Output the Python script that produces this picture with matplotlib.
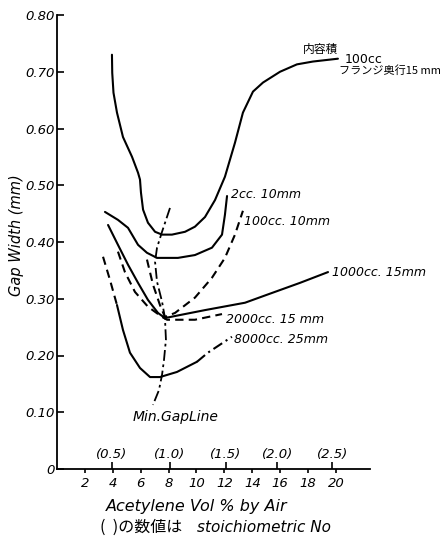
import matplotlib
matplotlib.use("Agg")
import matplotlib.pyplot as plt

# ---------------- data ----------------
c100_x = [3.94, 3.96, 4.05, 4.30, 4.73, 5.38, 5.81, 5.95, 6.02, 6.17, 6.52, 7.03, 7.53,
          8.24, 9.18, 9.89, 10.61, 11.33, 12.04, 12.76, 13.33, 14.05, 14.77, 15.99,
          17.20, 18.35, 20.14]
c100_y = [0.730, 0.698, 0.663, 0.628, 0.585, 0.550, 0.522, 0.510, 0.487, 0.457, 0.434,
          0.418, 0.413, 0.413, 0.418, 0.427, 0.444, 0.474, 0.515, 0.575, 0.628, 0.665,
          0.681, 0.700, 0.713, 0.718, 0.723]

c2_x = [3.44, 4.37, 5.09, 5.81, 6.45, 7.17, 8.67, 9.89, 11.11, 11.83, 12.04, 12.19]
c2_y = [0.453, 0.439, 0.425, 0.395, 0.381, 0.372, 0.372, 0.377, 0.390, 0.413, 0.448, 0.481]

c100b_x = [6.45, 6.88, 7.38, 7.74, 8.46, 9.89, 11.11, 12.04, 12.76, 13.33]
c100b_y = [0.369, 0.325, 0.289, 0.268, 0.275, 0.302, 0.337, 0.372, 0.413, 0.455]

c1000_x = [3.66, 4.37, 5.09, 5.81, 6.52, 7.24, 7.74, 8.96, 10.61, 13.48, 15.05, 17.42, 19.43]
c1000_y = [0.430, 0.395, 0.360, 0.328, 0.298, 0.275, 0.266, 0.272, 0.280, 0.293, 0.307,
           0.328, 0.347]

c2000_x = [4.37, 4.87, 5.59, 6.52, 7.53, 7.89, 9.89, 11.83]
c2000_y = [0.383, 0.347, 0.312, 0.286, 0.268, 0.263, 0.263, 0.273]

c8000_x = [3.30, 3.80, 4.30, 4.73, 5.23, 5.95, 6.67, 7.38, 8.60, 10.04, 10.82, 12.54]
c8000_y = [0.374, 0.333, 0.289, 0.245, 0.205, 0.178, 0.162, 0.162, 0.171, 0.189, 0.205, 0.233]

mingap_x = [8.10, 7.53, 7.17, 7.03, 7.17, 7.53, 7.74, 7.81, 7.67, 7.53, 7.31, 6.88]
mingap_y = [0.460, 0.418, 0.390, 0.365, 0.330, 0.295, 0.266, 0.228, 0.192, 0.166,
            0.139, 0.113]

x_ticks = [2, 4, 6, 8, 10, 12, 14, 16, 18, 20]
y_ticks = [0, 0.10, 0.20, 0.30, 0.40, 0.50, 0.60, 0.70, 0.80]
y_tick_labels = ["0", "0.10", "0.20", "0.30", "0.40", "0.50", "0.60", "0.70", "0.80"]
stoich_pos = [3.95, 8.1, 12.1, 15.8, 19.75]
stoich_labels = ["(0.5)", "(1.0)", "(1.5)", "(2.0)", "(2.5)"]

# ---------------- figure ----------------
W, H = 440, 547
fig = plt.figure(figsize=(W / 100, H / 100), dpi=100)
ax = fig.add_axes([57 / W, 78 / H, 313 / W, 454 / H])
ax.set_xlim(0, 22.44)
ax.set_ylim(0, 0.80)

lw = 1.5
k = "black"
st = dict(color=k, lw=lw, solid_joinstyle="round", solid_capstyle="round")
dash = (0, (4, 2.5))
ax.plot(c100_x, c100_y, **st)
ax.plot(c2_x, c2_y, **st)
ax.plot(c100b_x, c100b_y, ls=dash, **st)
ax.plot(c1000_x, c1000_y, **st)
ax.plot(c2000_x, c2000_y, ls=dash, **st)
# 8000cc: dashed start, solid bottom, dash-dot rise
ax.plot(c8000_x[:3], c8000_y[:3], ls=dash, **st)
ax.plot(c8000_x[2:10], c8000_y[2:10], **st)
ax.plot(c8000_x[9:], c8000_y[9:], ls=(0, (5, 2, 1, 2)), **st)
ax.plot(mingap_x, mingap_y, color=k, lw=1.3, ls=(0, (6, 2, 1.5, 2)))

# spines / ticks
for s in ["top", "right"]:
    ax.spines[s].set_visible(False)
for s in ["left", "bottom"]:
    ax.spines[s].set_linewidth(1.3)

itf = dict(fontstyle="italic", family="DejaVu Sans")
ax.set_yticks(y_ticks)
ax.set_yticklabels(y_tick_labels, fontsize=9.5, **itf)
ax.tick_params(axis="y", direction="in", length=5, width=1.2, pad=2)
ax.set_xticks(x_ticks)
ax.set_xticklabels([str(v) for v in x_ticks], fontsize=9.5, **itf)
ax.tick_params(axis="x", direction="out", length=3, width=1.2, pad=3)

sec = ax.secondary_xaxis(0)
sec.set_alignment("top")
sec.set_xticks(stoich_pos)
sec.set_xticklabels(stoich_labels, fontsize=9.5, **itf)
sec.tick_params(axis="x", direction="out", length=5, width=1.2, pad=1)
sec.spines["top"].set_visible(False)
sec.spines["bottom"].set_visible(False)

# curve labels
lab = dict(fontsize=9, fontstyle="italic", family="DejaVu Sans", va="center", ha="left")
jp = ["Noto Sans CJK JP", "DejaVu Sans"]
ax.text(17.6, 0.740, "内容積", fontsize=8.5, family=jp, va="center", ha="left")
ax.text(20.65, 0.722, "100cc", fontsize=9, family="DejaVu Sans", va="center", ha="left",
        clip_on=False)
ax.text(20.25, 0.702, "フランジ奥行15 mm", fontsize=8, family=jp, va="center", ha="left",
        clip_on=False)
ax.text(12.45, 0.483, "2cc. 10mm", **lab)
ax.text(13.4, 0.436, "100cc. 10mm", **lab)
ax.text(19.75, 0.346, "1000cc. 15mm", clip_on=False, **lab)
ax.text(12.1, 0.263, "2000cc. 15 mm", **lab)
ax.text(12.7, 0.229, "8000cc. 25mm", **lab)
ax.text(5.4, 0.091, "Min.GapLine", fontsize=10, fontstyle="italic", family="DejaVu Sans",
        va="center", ha="left")

# axis labels
fig.text(17 / W, 1 - 235 / H, "Gap Width (mm)", rotation=90, fontsize=10.5,
         ha="center", va="center", **itf)
fig.text(197 / W, 1 - 506 / H, "Acetylene Vol % by Air", fontsize=11.5,
         ha="center", va="center", **itf)
fig.text(100 / W, 1 - 527 / H, "(  )の数値は", fontsize=11.5, family=jp,
         ha="left", va="center")
fig.text(197 / W, 1 - 527 / H, "stoichiometric No", fontsize=11,
         ha="left", va="center", **itf)

fig.savefig("out.png", dpi=100)
